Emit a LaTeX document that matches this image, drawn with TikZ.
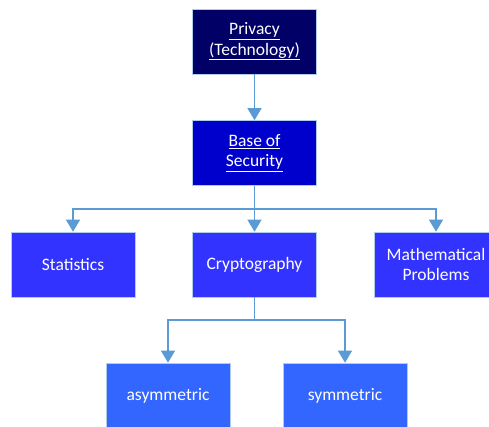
\documentclass[tikz,border=0pt]{standalone}
\usepackage{fontspec}
\setmainfont{Carlito}
\usetikzlibrary{arrows.meta}
\definecolor{lineblue}{HTML}{5B9BD5}
\definecolor{navy}{HTML}{000066}
\definecolor{royal}{HTML}{0000CC}
\definecolor{mid}{HTML}{3333FF}
\definecolor{light}{HTML}{3366FF}
\tikzset{
  box/.style={draw=lineblue!50!white, line width=0.6pt, minimum width=124pt,
    minimum height=65pt, inner sep=2pt, align=center, text=white,
    font=\fontsize{17.5}{20.5}\selectfont},
  conn/.style={draw=lineblue, line width=1.3pt,
    -{Triangle[width=14pt,length=12pt]}},
  wire/.style={draw=lineblue, line width=1.3pt}
}
\begin{document}
\begin{tikzpicture}[x=1pt,y=-1pt]
  \useasboundingbox (0,0) rectangle (489,427);
  \clip (0,0) rectangle (489,427);
  % top of the hierarchy
  \node[box, fill=navy] (priv) at (254.5,41.5) {\underline{Privacy}\\\underline{(Technology)}};
  \node[box, fill=royal] (base) at (254.5,153) {\underline{Base of}\\\underline{Security}};
  % second level
  \node[box, fill=mid] (stat) at (73,264.5) {Statistics};
  \node[box, fill=mid] (crypt) at (254.5,264.5) {Cryptography};
  \node[box, fill=mid] (math) at (436,264.5) {Mathematical\\Problems};
  % third level
  \node[box, fill=light] (asym) at (168,395.5) {asymmetric};
  \node[box, fill=light] (sym) at (345,395.5) {symmetric};
  % connectors
  \draw[conn] (priv) -- (base);
  \coordinate (bus1) at (254.5,209);
  \draw[wire] (base.south) -- (bus1);
  \draw[conn] (bus1) -| (stat.north);
  \draw[conn] (bus1) -- (crypt.north);
  \draw[conn] (bus1) -| (math.north);
  \coordinate (bus2) at (254.5,320);
  \draw[wire] (crypt.south) -- (bus2);
  \draw[conn] (bus2) -| (asym.north);
  \draw[conn] (bus2) -| (sym.north);
\end{tikzpicture}
\end{document}
